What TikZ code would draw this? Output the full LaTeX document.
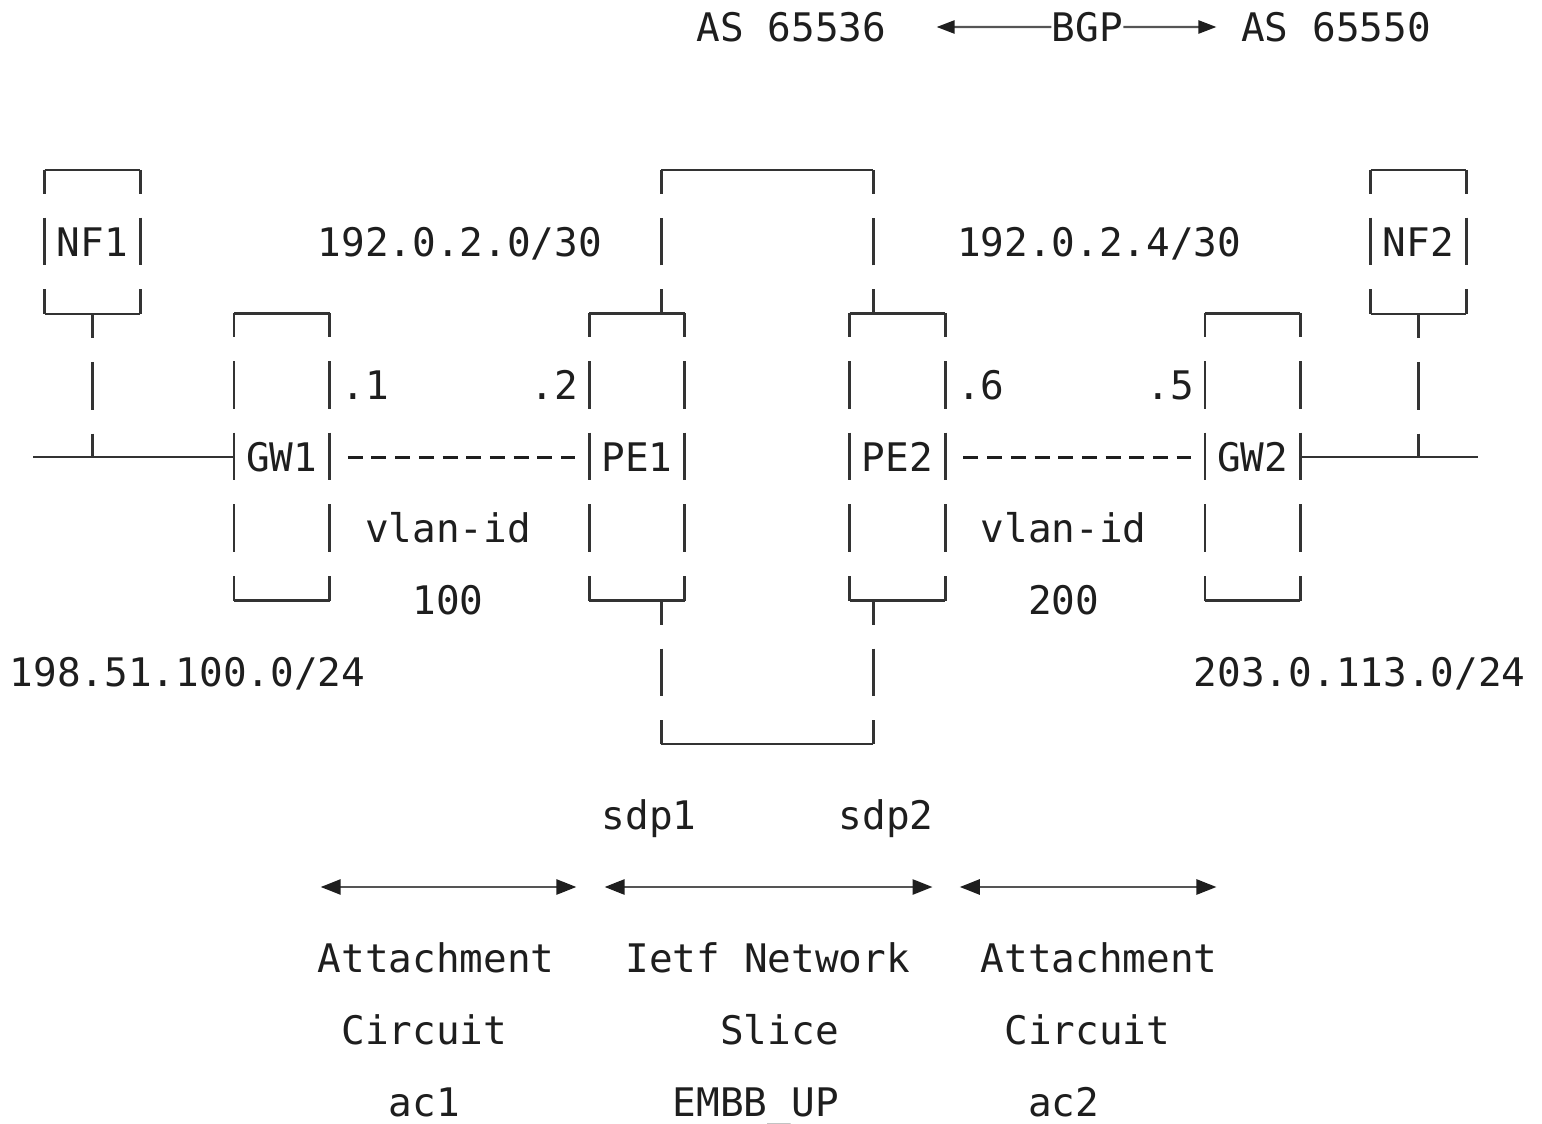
\documentclass[tikz,border=0pt]{standalone}
\usepackage{fontspec}
\usepackage{tikz}
\usetikzlibrary{arrows.meta}
\newfontfamily\asciifont{DejaVu Sans Mono}
\definecolor{ink}{HTML}{1E1E1E}
\definecolor{wire}{HTML}{333333}
\definecolor{shaft}{HTML}{555555}

\begin{document}
\begin{tikzpicture}[x=11.84pt, y=-35.833pt,
    txt/.style={font=\asciifont\fontsize{19.67}{24}\selectfont, text=ink, inner sep=0pt, anchor=base west, yshift=-7.15pt},
    nodebox/.style={font=\asciifont\fontsize{19.67}{24}\selectfont, text=ink, inner sep=0pt, minimum width=47.36pt},
    smallbox/.style={nodebox, minimum height=71.667pt},
    tallbox/.style={nodebox, minimum height=143.333pt},
    edge/.style={draw=wire, line width=1.4pt},
    vseg/.style={dash pattern=on 23.89pt off 11.94pt, dash phase=11.94pt},
    link/.style={draw=ink, line width=1.5pt, dash pattern=on 7.5pt off 4.34pt, shorten <=9.1pt, shorten >=7.1pt},
    bgparrow/.style={draw=shaft, line width=1.2pt, -{Triangle[length=9pt, width=6.5pt, color=ink]}},
    spanarrow/.style={draw=shaft, line width=1.3pt, {Triangle[length=10pt, width=7.5pt, color=ink]}-{Triangle[length=10pt, width=7.5pt, color=ink]}}]
    \useasboundingbox (-0.4012,-0.3767) rectangle (64.717,15.306);

    % BGP session
    \node[txt] (as1) at (29,0) {AS 65536};
    \node[txt] (bgp) at (44,0) {BGP};
    \node[txt] (as2) at (52,0) {AS 65550};
    \coordinate (bgpl) at (39.15,0);
    \coordinate (bgpr) at (50.97,0);
    \draw[bgparrow] (bgp.west) -- (bgpl);
    \draw[bgparrow] (bgp.east) -- (bgpr);

    % Boxes
    \node[smallbox] (nf1) at (3.5,3) {NF1};
    \node[tallbox] (gw1) at (11.5,6) {GW1};
    \node[tallbox] (pe1) at (26.5,6) {PE1};
    \node[tallbox] (pe2) at (37.5,6) {PE2};
    \node[tallbox] (gw2) at (52.5,6) {GW2};
    \node[smallbox] (nf2) at (59.5,3) {NF2};
    \foreach \n in {nf1,gw1,pe1,pe2,gw2,nf2} {
        \draw[edge] (\n.north west) -- (\n.north east) (\n.south west) -- (\n.south east);
        \draw[edge,vseg] (\n.north west) -- (\n.south west) (\n.north east) -- (\n.south east);
    }

    % Slice between the PEs
    \coordinate (p1n) at ([xshift=-11.84pt]pe1.north east);
    \coordinate (p1s) at ([xshift=-11.84pt]pe1.south east);
    \coordinate (p2n) at ([xshift=11.84pt]pe2.north west);
    \coordinate (p2s) at ([xshift=11.84pt]pe2.south west);
    \draw[edge,vseg] (p1n) -- ++(0,-2) coordinate (st1);
    \draw[edge,vseg] (p2n) -- ++(0,-2) coordinate (st2);
    \draw[edge] (st1) -- (st2);
    \draw[edge,vseg] (p1s) -- ++(0,2) coordinate (sb1);
    \draw[edge,vseg] (p2s) -- ++(0,2) coordinate (sb2);
    \draw[edge] (sb1) -- (sb2);

    % LANs
    \coordinate (lan1) at (1,6);
    \coordinate (lan2) at (62,6);
    \draw[edge] (lan1) -- (gw1.west);
    \draw[edge,vseg] (nf1.south) -- (nf1.south |- gw1.west);
    \draw[edge] (gw2.east) -- (lan2);
    \draw[edge,vseg] (nf2.south) -- (nf2.south |- gw2.east);

    % Attachment links
    \draw[link] (gw1.east) -- (pe1.west);
    \draw[link] (pe2.east) -- (gw2.west);
    \node[txt] at (14,5) {.1};
    \node[txt] at (22,5) {.2};
    \node[txt] at (40,5) {.6};
    \node[txt] at (48,5) {.5};
    \node[txt] at (15,7) {vlan-id};
    \node[txt] at (17,8) {100};
    \node[txt] at (41,7) {vlan-id};
    \node[txt] at (43,8) {200};

    % Prefixes
    \node[txt] at (13,3) {192.0.2.0/30};
    \node[txt] at (40,3) {192.0.2.4/30};
    \node[txt] at (0,9) {198.51.100.0/24};
    \node[txt] at (50,9) {203.0.113.0/24};
    \node[txt] (sdp1) at (25,11) {sdp1};
    \node[txt] (sdp2) at (35,11) {sdp2};

    % Spans
    \coordinate (ac1l) at (13.14,12);
    \coordinate (ac1r) at (23.94,12);
    \coordinate (slicel) at (25.13,12);
    \coordinate (slicer) at (38.98,12);
    \coordinate (ac2l) at (40.13,12);
    \coordinate (ac2r) at (50.97,12);
    \draw[spanarrow] (ac1l) -- (ac1r);
    \draw[spanarrow] (slicel) -- (slicer);
    \draw[spanarrow] (ac2l) -- (ac2r);
    \node[txt] at (13,13) {Attachment};
    \node[txt] at (14,14) {Circuit};
    \node[txt] at (16,15) {ac1};
    \node[txt] at (26,13) {Ietf Network};
    \node[txt] at (30,14) {Slice};
    \node[txt] at (28,15) {EMBB\_UP};
    \node[txt] at (41,13) {Attachment};
    \node[txt] at (42,14) {Circuit};
    \node[txt] at (43,15) {ac2};
\end{tikzpicture}
\end{document}
